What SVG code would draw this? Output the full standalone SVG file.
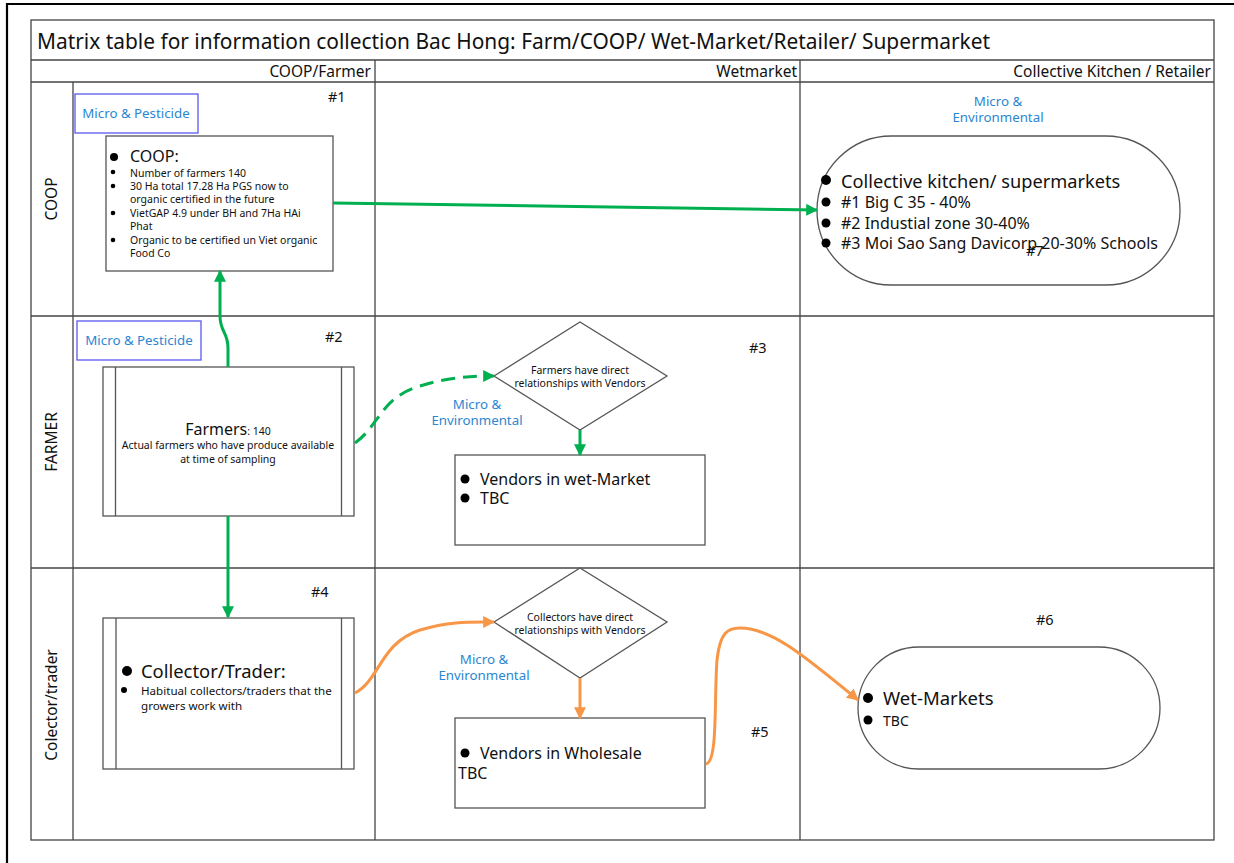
<svg xmlns="http://www.w3.org/2000/svg" width="1234" height="863" viewBox="0 0 1234 863">
<style>
text{font-family:"Noto Sans","Open Sans","Liberation Sans",sans-serif;fill:#111}
.grid{stroke:#444;stroke-width:1.3;fill:none}
.box{fill:#fff;stroke:#555;stroke-width:1.3}
.mbox{fill:#fff;stroke:#5a5af0;stroke-width:1.3}
.blue{fill:#2b86d2;font-size:13.3px}
.num{font-size:14.5px}
.g{stroke:#00b050;stroke-width:3;fill:none}
.o{stroke:#f79646;stroke-width:3;fill:none}
.s11{font-size:10.5px}
.hdr{font-size:15.5px}
</style>
<defs>
<marker id="ag" viewBox="0 0 10 10" refX="9" refY="5" markerWidth="4" markerHeight="4" orient="auto" markerUnits="strokeWidth"><path d="M0,0 L10,5 L0,10 z" fill="#00b050"/></marker>
<marker id="ao" viewBox="0 0 10 10" refX="9" refY="5" markerWidth="4" markerHeight="4" orient="auto" markerUnits="strokeWidth"><path d="M0,0 L10,5 L0,10 z" fill="#f79646"/></marker>
</defs>
<rect width="1234" height="863" fill="#fff"/>
<g id="frame">
<path d="M7,863 L7,4 L1234,4" stroke="#000" stroke-width="2.2" fill="none"/>
<rect x="31" y="20" width="1183" height="820" class="grid"/>
<line x1="31" y1="60" x2="1214" y2="60" class="grid"/>
<line x1="31" y1="82" x2="1214" y2="82" class="grid"/>
<line x1="73" y1="82" x2="73" y2="840" class="grid"/>
<line x1="375" y1="60" x2="375" y2="840" class="grid"/>
<line x1="800" y1="60" x2="800" y2="840" class="grid"/>
<line x1="31" y1="316" x2="1214" y2="316" class="grid"/>
<line x1="31" y1="568" x2="1214" y2="568" class="grid"/>
<text x="37" y="49" font-size="21" textLength="953" lengthAdjust="spacingAndGlyphs">Matrix table for information collection Bac Hong: Farm/COOP/ Wet-Market/Retailer/ Supermarket</text>
<text x="371" y="77" class="hdr" text-anchor="end">COOP/Farmer</text>
<text x="797" y="77" class="hdr" text-anchor="end">Wetmarket</text>
<text x="1211" y="77" class="hdr" text-anchor="end">Collective Kitchen / Retailer</text>
<text transform="translate(57,199) rotate(-90)" font-size="15.5" text-anchor="middle">COOP</text>
<text transform="translate(57,442) rotate(-90)" font-size="15.5" text-anchor="middle">FARMER</text>
<text transform="translate(57,705) rotate(-90)" font-size="15.5" text-anchor="middle">Colector/trader</text>
</g>
<g id="labels">
<text x="328" y="102" class="num">#1</text>
<text x="325" y="342" class="num">#2</text>
<text x="749" y="353" class="num">#3</text>
<text x="311" y="597" class="num">#4</text>
<text x="751" y="737" class="num">#5</text>
<text x="1036" y="625" class="num">#6</text>
<text x="998" y="106" class="blue" text-anchor="middle">Micro &amp;</text>
<text x="998" y="122" class="blue" text-anchor="middle">Environmental</text>
<text x="477" y="409" class="blue" text-anchor="middle">Micro &amp;</text>
<text x="477" y="425" class="blue" text-anchor="middle">Environmental</text>
<text x="484" y="664" class="blue" text-anchor="middle">Micro &amp;</text>
<text x="484" y="680" class="blue" text-anchor="middle">Environmental</text>
</g>
<g id="micro1">
<rect x="75" y="94" width="123" height="39" class="mbox"/>
<text x="136" y="118" class="blue" text-anchor="middle">Micro &amp; Pesticide</text>
</g>
<g id="micro2">
<rect x="77" y="321" width="124" height="39" class="mbox"/>
<text x="139" y="345" class="blue" text-anchor="middle">Micro &amp; Pesticide</text>
</g>
<g id="coop">
<rect x="106" y="136" width="227" height="135" class="box"/>
<circle cx="114" cy="157" r="4"/>
<text x="130" y="162" font-size="16">COOP:</text>
<circle cx="113" cy="172" r="2.3"/><text x="130" y="177" class="s11">Number of farmers 140</text>
<circle cx="113" cy="186" r="2.3"/><text x="130" y="190" class="s11">30 Ha total 17.28 Ha PGS now to</text>
<text x="130" y="203" class="s11">organic certified in the future</text>
<circle cx="113" cy="213" r="2.3"/><text x="130" y="217" class="s11">VietGAP 4.9 under BH and  7Ha HAi</text>
<text x="130" y="230" class="s11">Phat</text>
<circle cx="113" cy="240" r="2.3"/><text x="130" y="244" class="s11">Organic to be certified un Viet organic</text>
<text x="130" y="257" class="s11">Food Co</text>
</g>
<g id="kitchen">
<rect x="817" y="136" width="363" height="149" rx="74.5" ry="74.5" class="box"/>
<circle cx="826" cy="180" r="5"/>
<text x="841" y="188" font-size="18.2">Collective kitchen/ supermarkets</text>
<circle cx="826" cy="202" r="4.5"/><text x="841" y="208" font-size="16">#1 Big C 35 - 40%</text>
<circle cx="826" cy="223" r="4.5"/><text x="841" y="229" font-size="16">#2 Industial zone 30-40%</text>
<circle cx="826" cy="243" r="4.5"/><text x="841" y="249" font-size="16">#3 Moi Sao Sang Davicorp 20-30% Schools</text>
<text x="1026" y="256" class="num">#7</text>
</g>
<g id="farmers">
<rect x="103" y="367" width="251" height="149" class="box"/>
<line x1="115.5" y1="367" x2="115.5" y2="516" class="box"/>
<line x1="341.5" y1="367" x2="341.5" y2="516" class="box"/>
<text x="228" y="435" text-anchor="middle"><tspan font-size="16">Farmers</tspan><tspan font-size="10.5">: 140</tspan></text>
<text x="228" y="449" class="s11" text-anchor="middle">Actual farmers who have produce available</text>
<text x="228" y="463" class="s11" text-anchor="middle">at time of sampling</text>
</g>
<g id="diamond1">
<polygon points="494,376 580,322 667,376 580,430" class="box"/>
<text x="580" y="374" font-size="10.5" text-anchor="middle">Farmers have direct</text>
<text x="580" y="387" font-size="10.5" text-anchor="middle">relationships with Vendors</text>
</g>
<g id="vendorsWet">
<rect x="455" y="455" width="250" height="90" class="box"/>
<circle cx="465" cy="479" r="4.5"/>
<text x="480" y="485" font-size="16">Vendors in wet-Market</text>
<circle cx="465" cy="498" r="4.5"/>
<text x="480" y="504" font-size="16">TBC</text>
</g>
<g id="collector">
<rect x="103" y="618" width="251" height="151" class="box"/>
<line x1="116" y1="618" x2="116" y2="769" class="box"/>
<line x1="341.5" y1="618" x2="341.5" y2="769" class="box"/>
<circle cx="127" cy="671" r="5"/>
<text x="141" y="678" font-size="18.4">Collector/Trader:</text>
<circle cx="124" cy="690" r="3"/>
<text x="141" y="695" font-size="11.6">Habitual collectors/traders that the</text>
<text x="141" y="710" font-size="11.6">growers work with</text>
</g>
<g id="diamond2">
<polygon points="494,622 580,568 667,622 580,678" class="box"/>
<text x="580" y="621" font-size="10.5" text-anchor="middle">Collectors have direct</text>
<text x="580" y="634" font-size="10.5" text-anchor="middle">relationships with Vendors</text>
</g>
<g id="wholesale">
<rect x="455" y="718" width="250" height="90" class="box"/>
<circle cx="465" cy="753" r="4.5"/>
<text x="480" y="759" font-size="16">Vendors in Wholesale</text>
<text x="458" y="779" font-size="16">TBC</text>
</g>
<g id="wetmarkets">
<rect x="858" y="647" width="302" height="122" rx="61" ry="61" class="box"/>
<circle cx="868" cy="698" r="5"/>
<text x="883" y="705" font-size="18.5">Wet-Markets</text>
<circle cx="868" cy="720" r="4.5"/>
<text x="883" y="726" font-size="14">TBC</text>
</g>
<g id="connectors">
<path d="M333,203 L817,210" class="g" marker-end="url(#ag)"/>
<path d="M228,367 L228,348 C228,332 220,332 220,316 L220,271" class="g" marker-end="url(#ag)"/>
<path d="M228,516 L228,617" class="g" marker-end="url(#ag)"/>
<path d="M355,443 C380,425 380,398 420,386 C450,377 470,376 494,376" class="g" stroke-dasharray="14,8" marker-end="url(#ag)"/>
<path d="M580,430 L580,455" class="g" marker-end="url(#ag)"/>
<path d="M355,693 C380,680 380,643 420,630 C450,621 470,622 494,622" class="o" marker-end="url(#ao)"/>
<path d="M580,678 L580,718" class="o" marker-end="url(#ao)"/>
<path d="M706,764 C718,762 714,700 717,660 C720,632 728,628 740,628 C770,628 800,652 858,700" class="o" marker-end="url(#ao)"/>
</g>
</svg>
